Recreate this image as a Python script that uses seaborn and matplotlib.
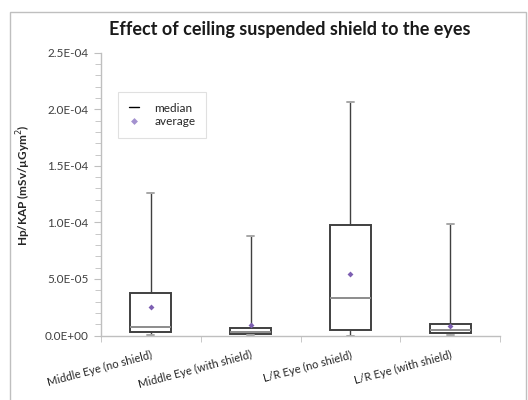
import numpy as np
import pandas as pd
import matplotlib
matplotlib.use("Agg")
import matplotlib.pyplot as plt
from matplotlib.ticker import FuncFormatter, MultipleLocator, FixedLocator
from matplotlib.lines import Line2D
from matplotlib.patches import Rectangle
import seaborn as sns

categories = ["Middle Eye (no shield)", "Middle Eye (with shield)",
              "L/R Eye (no shield)", "L/R Eye (with shield)"]
whisker_low = [5e-7, 8e-7, 0.0, 8e-7]
q1 = [2.8e-6, 1.6e-6, 5.1e-6, 1.9e-6]
median = [7.8e-6, 3.4e-6, 3.3e-5, 4.6e-6]
q3 = [3.73e-5, 6.4e-6, 9.75e-5, 9.9e-6]
whisker_high = [1.26e-4, 8.8e-5, 2.06e-4, 9.9e-5]
average = [2.55e-5, 9.0e-6, 5.4e-5, 8.7e-6]

sns.set_style("white")
plt.rcParams['font.family'] = ['Lato', 'DejaVu Sans']

# five-number summaries per category (box drawn with min-max whiskers)
rows = []
for i, c in enumerate(categories):
    for v in (whisker_low[i], q1[i], median[i], q3[i], whisker_high[i]):
        rows.append({"cat": c, "val": v})
df = pd.DataFrame(rows)
mean_df = pd.DataFrame({"cat": categories, "val": average})

fig = plt.figure(figsize=(5.28, 4.0), dpi=100)
ax = fig.add_axes([101/528, 1-335.5/400, (500-101)/528, (335.5-52.7)/400])

sns.boxplot(data=df, x="cat", y="val", order=categories, ax=ax,
            whis=(0, 100), width=0.41, color="white", linecolor="#404040",
            linewidth=1.4, showfliers=False,
            medianprops=dict(color="#8c8c8c", linewidth=1.4),
            whiskerprops=dict(color="#404040", linewidth=1.0),
            capprops=dict(color="#a6a6a6", linewidth=1.4),
            capwidths=0.07)
sns.scatterplot(data=mean_df, x="cat", y="val", ax=ax, marker="D", s=9,
                color="#7d5fb2", edgecolor="#7d5fb2", linewidth=0, zorder=5)

ax.set_xlim(-0.5, 3.5)
ax.set_ylim(0, 2.5e-4)
ax.yaxis.set_major_locator(MultipleLocator(5e-5))
ax.yaxis.set_minor_locator(MultipleLocator(1e-5))
ax.yaxis.set_major_formatter(FuncFormatter(lambda v, p: f"{v:.1E}"))
ax.xaxis.set_minor_locator(FixedLocator([-0.5, 0.5, 1.5, 2.5, 3.5]))

for s in ["top", "right"]:
    ax.spines[s].set_visible(False)
for s in ["left", "bottom"]:
    ax.spines[s].set_color("#bfbfbf")
    ax.spines[s].set_linewidth(1.0)

ax.tick_params(axis="y", which="both", direction="out", left=True,
               color="#bfbfbf", labelsize=8.5, labelcolor="#404040", pad=4)
ax.tick_params(axis="y", which="major", length=5)
ax.tick_params(axis="y", which="minor", length=4)
ax.tick_params(axis="x", which="major", length=0, labelsize=8,
               labelcolor="#262626", pad=10)
ax.tick_params(axis="x", which="minor", bottom=True, length=4, color="#bfbfbf")
for lab in ax.get_xticklabels():
    lab.set_rotation(15)
    lab.set_ha("right")
    lab.set_rotation_mode("anchor")

ax.set_xlabel("")
ax.set_ylabel("Hp/KAP (mSv/µGym$^2$)", fontsize=8.5, fontweight="bold",
              color="#262626")
ax.yaxis.set_label_coords((33-101)/399, (335.5-185)/282.8)

fig.text(290/528, 1-30/400, "Effect of ceiling suspended shield to the eyes",
         ha="center", va="center", fontsize=13, fontweight="bold", color="#1a1a1a")

handles = [Line2D([], [], color="black", linewidth=1.0, linestyle="-"),
           Line2D([], [], marker="D", linestyle="none", markersize=3.5,
                  color="#a391cf", markeredgewidth=0)]
leg = ax.legend(handles, ["median", "average"], loc="upper left",
                bbox_to_anchor=((118-101)/399, 1-(92-52.7)/282.8),
                frameon=True, fancybox=False, fontsize=8.5, handlelength=0.9,
                borderpad=0.9, labelspacing=0.2, handletextpad=1.3,
                borderaxespad=0)
leg.get_frame().set_edgecolor("#d9d9d9")
leg.get_frame().set_linewidth(0.8)
for t in leg.get_texts():
    t.set_color("#262626")

fig.patches.append(Rectangle((10/528, -0.05), 516/528, 1.05-12/400,
                             transform=fig.transFigure, fill=False,
                             edgecolor="#bfbfbf", linewidth=1.0))

fig.savefig("out.png", dpi=100)
